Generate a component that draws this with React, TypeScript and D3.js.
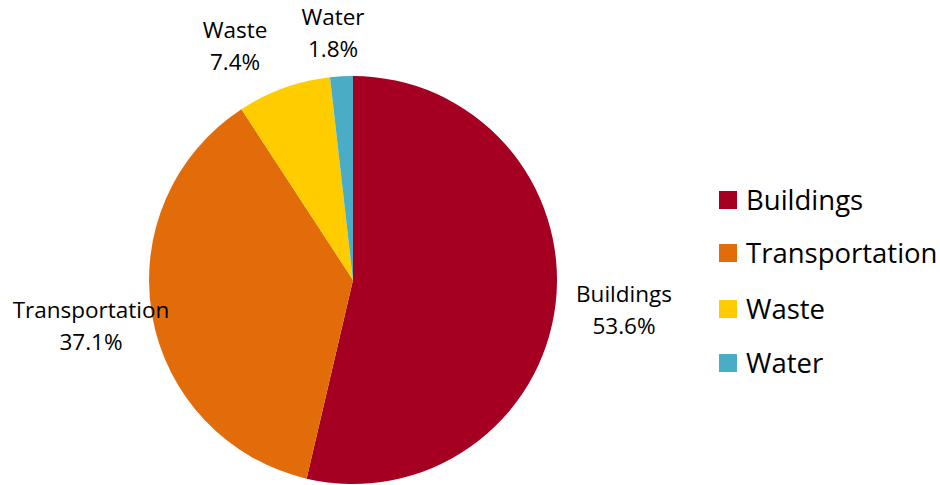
import React from 'react';
import * as d3 from 'd3';

const categories = ['Buildings', 'Transportation', 'Waste', 'Water'];
const shares = [53.6, 37.1, 7.4, 1.8];
const colors = ['#A50021', '#E36C0A', '#FFCC00', '#4BACC6'];

// label baseline of first line, relative to pie centre
const labelPos: [number, number][] = [
  [271, 22],
  [-262, 38],
  [-118, -242],
  [-20, -255],
];

const App: React.FC = () => {
  const width = 940;
  const height = 485;
  const cx = 353;
  const cy = 280;
  const r = 204;

  const data = categories.map((c, i) => ({ name: c, value: shares[i], color: colors[i] }));
  const pie = d3.pie<typeof data[0]>().sort(null).value(d => d.value);
  const arc = d3.arc<d3.PieArcDatum<typeof data[0]>>().innerRadius(0).outerRadius(r);
  const arcs = pie(data);

  const font = '"Open Sans", sans-serif';

  return (
    <svg
      width={width}
      height={height}
      style={{ position: 'absolute', left: 0, top: 0, background: '#fff' }}
      fontFamily={font}
    >
      <g transform={`translate(${cx},${cy})`}>
        {arcs.map(a => (
          <path key={a.data.name} d={arc(a) || ''} fill={a.data.color} />
        ))}
        {arcs.map((a, i) => (
          <text
            key={a.data.name + '-lbl'}
            x={labelPos[i][0]}
            y={labelPos[i][1]}
            textAnchor="middle"
            fontSize={22.5}
            fill="#000"
          >
            <tspan x={labelPos[i][0]}>{a.data.name}</tspan>
            <tspan x={labelPos[i][0]} dy={32}>{d3.format('.1f')(a.data.value)}%</tspan>
          </text>
        ))}
      </g>
      <g transform="translate(719,200)">
        {data.map((d, i) => (
          <g key={d.name} transform={`translate(0,${[0, 53, 109, 163][i]})`}>
            <rect x={0} y={-9} width={18} height={18} fill={d.color} />
            <text x={27} y={0} dy="0.36em" fontSize={27.5} fill="#000">{d.name}</text>
          </g>
        ))}
      </g>
    </svg>
  );
};

export default App;
